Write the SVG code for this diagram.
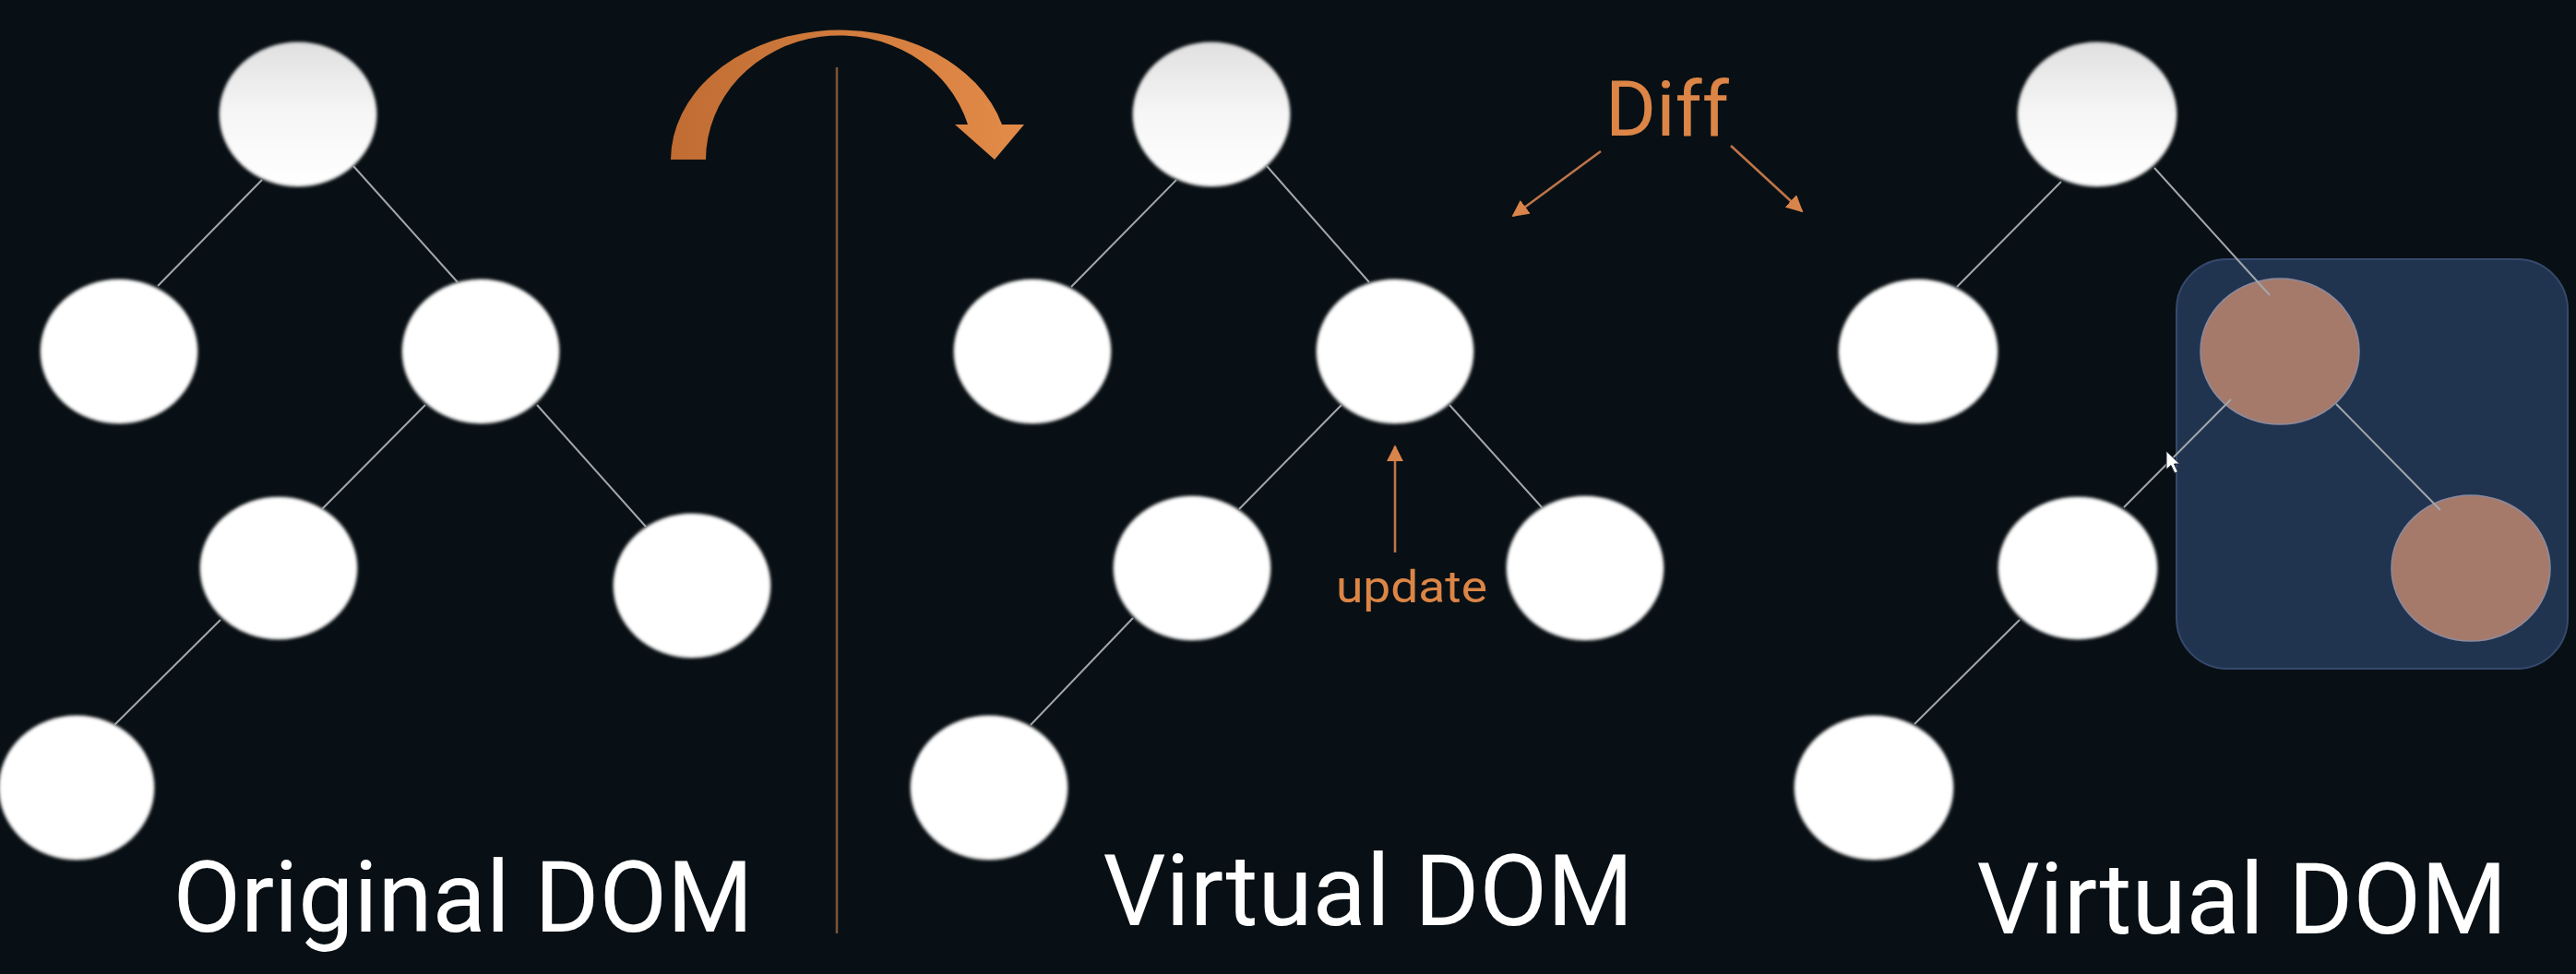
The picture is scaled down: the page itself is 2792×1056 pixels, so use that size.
<svg xmlns="http://www.w3.org/2000/svg" width="2792" height="1056" viewBox="0 0 2792 1056">
  <defs>
    <linearGradient id="rootGrad" x1="0" y1="0" x2="0" y2="1">
      <stop offset="0" stop-color="#e0e0e0"/>
      <stop offset="0.5" stop-color="#f6f6f6"/>
      <stop offset="1" stop-color="#ffffff"/>
    </linearGradient>
    <linearGradient id="arcGrad" x1="0" y1="0" x2="1" y2="0">
      <stop offset="0" stop-color="#c06c33"/>
      <stop offset="1" stop-color="#e38b48"/>
    </linearGradient>
    <filter id="soft" x="-10%" y="-10%" width="120%" height="120%">
      <feGaussianBlur stdDeviation="1.6"/>
    </filter>
    <marker id="oHead" viewBox="0 0 10 10" refX="9" refY="5" markerWidth="7" markerHeight="7" markerUnits="strokeWidth" orient="auto">
      <path d="M0,0 L10,5 L0,10 Z" fill="#d9844a"/>
    </marker>
  </defs>
  <style>
    .bg { fill: #081015; }
    .node { fill: #ffffff; stroke: #a0a0a0; stroke-width: 2; filter: url(#soft); }
    .root { fill: url(#rootGrad); stroke: #a0a0a0; stroke-width: 2; filter: url(#soft); }
    .brown { fill: #a57a6b; stroke: #8c8a9e; stroke-width: 1.5; }
    .edge { stroke: #a3a7ab; stroke-width: 2; fill: none; }
    .oarrow { stroke: #c07448; stroke-width: 2.6; fill: none; marker-end: url(#oHead); }
    .label { font-family: Roboto, "Liberation Sans", sans-serif; fill: #ffffff; font-size: 107px; text-anchor: middle; }
    .olabel { font-family: Roboto, "Liberation Sans", sans-serif; fill: #dc8546; }
  </style>

  <rect class="bg" x="0" y="0" width="2792" height="1056"/>

  <!-- Transition arrow and divider -->
  <g id="transitionArrow">
    <path d="M727,173 A183,141 0 0 1 1086,135 L1110,135 L1078,173 L1035,135 L1049,135 A145,135 0 0 0 765,173 Z" fill="url(#arcGrad)"/>
  </g>
  <g id="divider">
    <line x1="907" y1="73" x2="907" y2="1012" stroke="#7c5535" stroke-width="2.5"/>
  </g>

  <!-- Original DOM tree -->
  <g id="og-root"><ellipse class="root" cx="323" cy="124" rx="85" ry="78"/></g>
  <g id="og-l2a"><ellipse class="node" cx="129" cy="381" rx="85" ry="78"/></g>
  <g id="og-l2b"><ellipse class="node" cx="521" cy="381" rx="85" ry="78"/></g>
  <g id="og-l3a"><ellipse class="node" cx="302" cy="616" rx="85" ry="77"/></g>
  <g id="og-l3b"><ellipse class="node" cx="750" cy="635" rx="85" ry="78"/></g>
  <g id="og-l4"><ellipse class="node" cx="83" cy="854" rx="84" ry="78"/></g>

  <!-- Virtual DOM (middle) tree -->
  <g id="vd1-root"><ellipse class="root" cx="1313" cy="124" rx="85" ry="78"/></g>
  <g id="vd1-l2a"><ellipse class="node" cx="1119" cy="381" rx="85" ry="78"/></g>
  <g id="vd1-l2b"><ellipse class="node" cx="1512" cy="381" rx="85" ry="78"/></g>
  <g id="vd1-l3a"><ellipse class="node" cx="1292" cy="616" rx="85" ry="78"/></g>
  <g id="vd1-l3b"><ellipse class="node" cx="1718" cy="616" rx="85" ry="78"/></g>
  <g id="vd1-l4"><ellipse class="node" cx="1072" cy="854" rx="85" ry="78"/></g>

  <!-- Virtual DOM (right) tree -->
  <g id="diffBox"><rect x="2359" y="281" width="424" height="444" rx="55" ry="55" fill="#21344f" stroke="#36496d" stroke-width="2"/></g>
  <g id="vd2-root"><ellipse class="root" cx="2273" cy="124" rx="86" ry="78"/></g>
  <g id="vd2-l2a"><ellipse class="node" cx="2079" cy="381" rx="86" ry="78"/></g>
  <g id="vd2-l2b"><ellipse class="brown" cx="2471" cy="381" rx="86" ry="79"/></g>
  <g id="vd2-l3a"><ellipse class="node" cx="2252" cy="616" rx="86" ry="77"/></g>
  <g id="vd2-l3b"><ellipse class="brown" cx="2678" cy="616" rx="86" ry="79"/></g>
  <g id="vd2-l4"><ellipse class="node" cx="2031" cy="854" rx="86" ry="78"/></g>

  <!-- Connectors -->
  <g id="connectors">
    <line class="edge" x1="284" y1="195" x2="171" y2="310"/>
    <line class="edge" x1="383" y1="180" x2="496" y2="306"/>
    <line class="edge" x1="461" y1="439" x2="349" y2="552"/>
    <line class="edge" x1="582" y1="439" x2="700" y2="571"/>
    <line class="edge" x1="239" y1="672" x2="124" y2="786"/>

    <line class="edge" x1="1275" y1="195" x2="1161" y2="311"/>
    <line class="edge" x1="1373" y1="180" x2="1484" y2="306"/>
    <line class="edge" x1="1454" y1="439" x2="1343" y2="552"/>
    <line class="edge" x1="1571" y1="439" x2="1672" y2="551"/>
    <line class="edge" x1="1228" y1="670" x2="1117" y2="786"/>

    <line class="edge" x1="2234" y1="197" x2="2121" y2="311"/>
    <line class="edge" x1="2335" y1="182" x2="2460" y2="320"/>
    <line class="edge" x1="2418" y1="433" x2="2302" y2="550"/>
    <line class="edge" x1="2532" y1="438" x2="2645" y2="553"/>
    <line class="edge" x1="2189" y1="672" x2="2075" y2="785"/>

    <line class="oarrow" x1="1512" y1="599" x2="1512" y2="484"/>
    <line class="oarrow" x1="1735" y1="164" x2="1640" y2="234"/>
    <line class="oarrow" x1="1876" y1="158" x2="1953" y2="229"/>
  </g>

  <!-- Cursor -->
  <g id="cursor" transform="translate(2348,489)">
    <path d="M0,0 L0,20 L5,15.5 L9,24 L12.5,22.5 L8.5,14 L14.5,14 Z" fill="#ffffff" stroke="#1b2638" stroke-width="1"/>
  </g>

  <!-- Labels -->
  <g id="labels">
    <text class="olabel" x="1740" y="147" font-size="84">Diff</text>
    <text class="olabel" x="1448" y="653" font-size="48" textLength="164" lengthAdjust="spacingAndGlyphs">update</text>
    <text class="label" x="502" y="1010">Original DOM</text>
    <text class="label" x="1483" y="1003">Virtual DOM</text>
    <text class="label" x="2430" y="1012">Virtual DOM</text>
  </g>
</svg>
